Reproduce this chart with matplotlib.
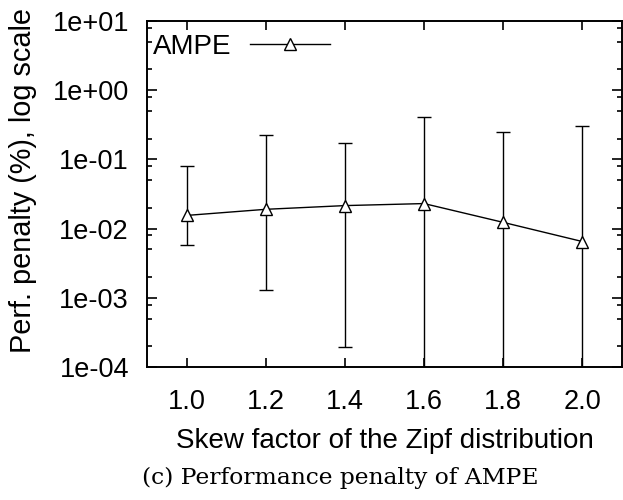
import matplotlib
matplotlib.use('Agg')
import matplotlib.pyplot as plt
from matplotlib.ticker import FixedLocator, FixedFormatter, NullLocator

# skew factor of the Zipf distribution
skew = [1.0, 1.2, 1.4, 1.6, 1.8, 2.0]
# AMPE penalty (%) : mean, upper and lower end of the error bar
ampe_mean = [0.0155, 0.019, 0.0215, 0.023, 0.0123, 0.0065]
ampe_high = [0.081, 0.225, 0.171, 0.41, 0.246, 0.307]
ampe_low = [0.0057, 0.0013, 0.000195, 5e-5, 5e-5, 5e-5]

xtick_labels = ['1.0', '1.2', '1.4', '1.6', '1.8', '2.0']
ytick_vals = [1e-4, 1e-3, 1e-2, 1e-1, 1e0, 1e1]
ytick_labels = ['1e-04', '1e-03', '1e-02', '1e-01', '1e+00', '1e+01']

plt.rcParams['font.family'] = ['Liberation Sans', 'DejaVu Sans']

fig = plt.figure(figsize=(6.23, 5.0), dpi=100)
ax = fig.add_axes([147 / 623, 1 - 367 / 500, 475 / 623, 346 / 500])

err = [[m - lo for m, lo in zip(ampe_mean, ampe_low)],
       [hi - m for m, hi in zip(ampe_mean, ampe_high)]]
ax.errorbar(skew, ampe_mean, yerr=err, fmt='none', ecolor='black',
            elinewidth=1.0, capsize=5, capthick=1.0)
ax.plot(skew, ampe_mean, color='black', lw=1.0, marker='^', markersize=9,
        markerfacecolor='white', markeredgecolor='black', markeredgewidth=1.0,
        label='AMPE')

ax.set_yscale('log')
ax.set_ylim(1e-4, 1e1)
ax.set_xlim(0.9, 2.1)

ax.xaxis.set_major_locator(FixedLocator(skew))
ax.xaxis.set_major_formatter(FixedFormatter(xtick_labels))
ax.xaxis.set_minor_locator(NullLocator())
ax.yaxis.set_major_locator(FixedLocator(ytick_vals))
ax.yaxis.set_major_formatter(FixedFormatter(ytick_labels))
minors = [m * 10.0 ** e for e in range(-4, 1) for m in (2, 5, 8)]
ax.yaxis.set_minor_locator(FixedLocator(minors))
ax.yaxis.set_minor_formatter(FixedFormatter([''] * len(minors)))

ax.tick_params(axis='both', which='both', direction='in', top=True, right=True,
               width=1.2, labelsize=19.5)
ax.tick_params(axis='y', which='major', length=7, pad=13)
ax.tick_params(axis='y', which='minor', length=3.6)
ax.tick_params(axis='x', which='major', length=6.5, pad=16)
for s in ax.spines.values():
    s.set_linewidth(1.4)

ax.set_ylabel('Perf. penalty (%), log scale', fontsize=20.8)
ax.yaxis.set_label_coords(-0.232, 0.54)
ax.set_xlabel('Skew factor of the Zipf distribution', fontsize=20, labelpad=9)

ax.legend(loc='upper left', bbox_to_anchor=(0.0126, 0.963), frameon=False,
          markerfirst=False, fontsize=20, handlelength=2.9, handletextpad=0.65,
          borderaxespad=0, borderpad=0)

fig.text(340 / 623, 1 - 478 / 500, '(c) Performance penalty of AMPE',
         ha='center', va='center', fontsize=16.8, family='DejaVu Serif')

fig.savefig('out.png', dpi=100)
